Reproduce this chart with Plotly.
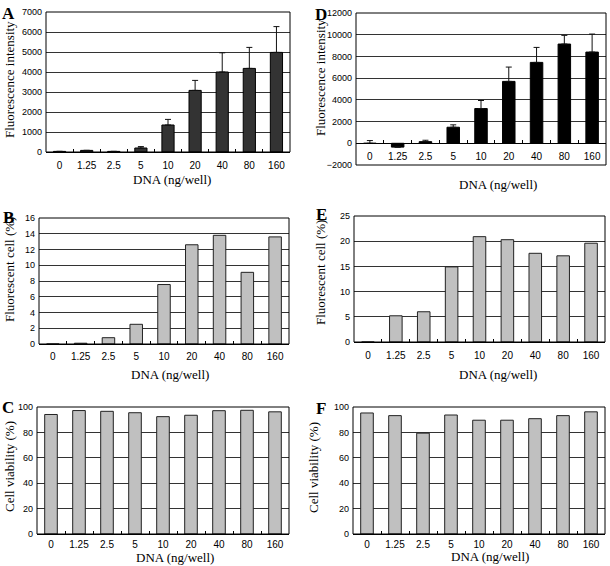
import plotly.graph_objects as go

W, H = 610, 566

dna = ["0", "1.25", "2.5", "5", "10", "20", "40", "80", "160"]

a_vals = [30, 80, 30, 200, 1350, 3080, 4000, 4180, 4980]
a_err = [0, 0, 0, 70, 280, 500, 960, 1050, 1290]

d_vals = [0, -350, 150, 1480, 3200, 5700, 7450, 9140, 8400]
d_err = [250, 0, 130, 220, 740, 1320, 1380, 800, 1660]

b_vals = [0, 0.1, 0.8, 2.5, 7.55, 12.6, 13.8, 9.1, 13.6]
e_vals = [0, 5.2, 6.0, 14.9, 20.9, 20.3, 17.6, 17.1, 19.6]
c_vals = [94.1, 97.2, 96.6, 95.5, 92.4, 93.5, 97.1, 97.4, 96.2]
f_vals = [95.3, 93.2, 79.4, 93.7, 89.6, 89.6, 90.8, 93.2, 96.2]

y_fi = "Fluorescence intensity"
y_fc = "Fluorescent cell (%)"
y_cv = "Cell viability (%)"
x_title = "DNA (ng/well)"

def px_x(v):
    return v / W

def px_y(v):
    return 1 - v / H

# panel: (letter, values, errors, color, line color, yrange, dtick, box px [x0,x1,y0,y1],
#         ytitle, ytitle pos, xtitle pos, letter pos, x tick label standoff)
panels = [
    ("A", a_vals, a_err, "#333333", "#000000", [0, 7000], 1000, [46, 290, 12, 152], y_fi, (9, 80), (172, 179), (8, 13), 4),
    ("D", d_vals, d_err, "#000000", "#000000", [-2000, 12000], 2000, [356, 606, 13, 165], y_fi, (321, 78), (498, 184), (321, 15), 4),
    ("B", b_vals, None, "#c0c0c0", "#222222", [0, 16], 2, [39, 289, 218, 344], y_fc, (9, 270), (170, 374), (8, 217), 3),
    ("E", e_vals, None, "#c0c0c0", "#222222", [0, 25], 5, [354, 605, 216, 342], y_fc, (320, 273), (498, 374), (321, 214), 4),
    ("C", c_vals, None, "#c0c0c0", "#222222", [0, 100], 20, [37, 289, 407, 534], y_cv, (9, 467), (175, 557), (8, 407), 1),
    ("F", f_vals, None, "#c0c0c0", "#222222", [0, 100], 20, [353, 605, 407, 534], y_cv, (313, 467), (490, 556), (321, 408), 1),
]

fig = go.Figure()
layout = dict(
    width=W, height=H, margin=dict(l=0, r=0, t=0, b=0, autoexpand=False),
    paper_bgcolor="white", plot_bgcolor="white", showlegend=False,
)
shapes = []
annotations = []
xtickfont = dict(family="Liberation Sans, Arial, sans-serif", size=10, color="black")
ytickfont = dict(family="Liberation Sans, Arial, sans-serif", size=9, color="black")
titlefont = dict(family="Liberation Serif, Times New Roman, serif", size=13, color="black")
letterfont = dict(family="Liberation Serif, Times New Roman, serif", size=17, color="black")

for i, (letter, vals, err, col, lcol, yr, dt, box, yt, ytp, xtp, lp, xso) in enumerate(panels):
    n = "" if i == 0 else str(i + 1)
    xa, ya = "x" + n, "y" + n
    xdom = [px_x(box[0]), px_x(box[1])]
    ydom = [px_y(box[3]), px_y(box[2])]
    kw = dict(x=dna, y=vals, marker=dict(color=col, line=dict(color=lcol, width=1)),
              xaxis=xa, yaxis=ya, width=0.45)
    if err is not None:
        kw["error_y"] = dict(type="data", symmetric=False, array=err,
                             arrayminus=[0] * len(err), color="#111111",
                             thickness=1, width=3)
    fig.add_trace(go.Bar(**kw))
    xaxis = dict(domain=xdom, type="category", anchor=ya, tickfont=xtickfont,
                 ticks="inside", ticklen=3, tickcolor="black", tickson="boundaries",
                 tickangle=0, automargin=False,
                 showgrid=False, showline=True, linecolor="black", linewidth=1,
                 ticklabelstandoff=xso, fixedrange=True)
    if letter == "D":
        zero_frac = (0 - yr[0]) / (yr[1] - yr[0])
        xaxis["anchor"] = "free"
        xaxis["position"] = ydom[0] + zero_frac * (ydom[1] - ydom[0])
    yaxis = dict(domain=ydom, range=yr, dtick=dt, tick0=0, anchor=xa,
                 tickfont=ytickfont, ticks="", showgrid=True, gridcolor="#333333",
                 gridwidth=1, zeroline=(letter == "D"), zerolinecolor="black",
                 zerolinewidth=1, showline=False, ticklabelstandoff=3,
                 tickformat="d", exponentformat="none", automargin=False,
                 fixedrange=True)
    layout["xaxis" + n] = xaxis
    layout["yaxis" + n] = yaxis
    shapes.append(dict(type="rect", xref=xa + " domain", yref=ya + " domain",
                       x0=0, x1=1, y0=0, y1=1, line=dict(color="black", width=1),
                       fillcolor="rgba(0,0,0,0)", layer="above"))
    annotations.append(dict(text=yt, textangle=-90, x=px_x(ytp[0]), y=px_y(ytp[1]),
                            xref="paper", yref="paper", showarrow=False,
                            font=titlefont, xanchor="center", yanchor="middle"))
    annotations.append(dict(text=x_title, x=px_x(xtp[0]), y=px_y(xtp[1]),
                            xref="paper", yref="paper", showarrow=False,
                            font=titlefont, xanchor="center", yanchor="middle"))
    annotations.append(dict(text="<b>" + letter + "</b>", x=px_x(lp[0]), y=px_y(lp[1]),
                            xref="paper", yref="paper", showarrow=False,
                            font=letterfont, xanchor="center", yanchor="middle"))

layout["shapes"] = shapes
layout["annotations"] = annotations
fig.update_layout(**layout)
fig.write_html("out.html", config={"displayModeBar": False},
               post_script="document.body.style.margin='0px';document.body.style.overflow='hidden';")
